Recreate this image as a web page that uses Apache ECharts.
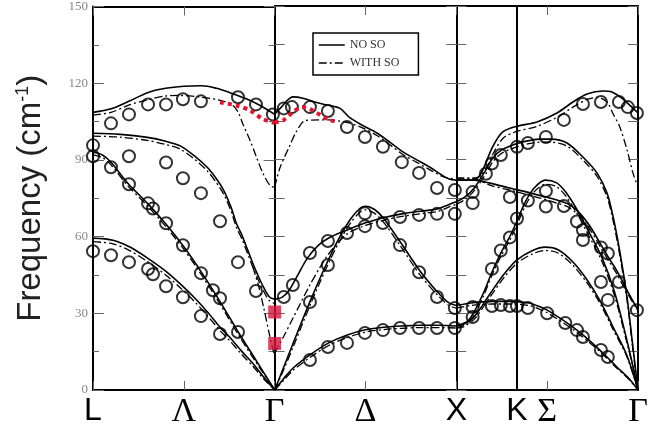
<!DOCTYPE html>
<html>
<head>
<meta charset="UTF-8">
<title>Phonon dispersion</title>
<script src="https://cdn.jsdelivr.net/npm/echarts@6/dist/echarts.min.js"></script>
<style>
  html,body{margin:0;padding:0;background:#fff;}
  #chart{width:668px;height:431px;}
</style>
</head>
<body>
<div id="chart"></div>
<script>
// path coordinate: L=0, Γ=1, X=2, K=2.334, Γ=3 (each panel one unit wide)
const tickPos = [0, 0.5, 1, 1.5, 2, 2.5, 3];
const tickNames = ['L', 'Λ', 'Γ', 'Δ', 'X', 'Σ', 'Γ'];
const kPos = 2.334;
const kName = 'K';

// calculated branches, NO SO (solid)
const noSoLG = [
  [[0,108.6],[0.1,110],[0.2,113],[0.3,116.3],[0.4,118],[0.5,118.8],[0.6,119],[0.68,118],[0.75,116.4],[0.84,114],[0.92,111.3],[1,107.8]],
  [[0,100.4],[0.15,100],[0.3,98.8],[0.4,97.3],[0.48,95.5],[0.56,91.5],[0.63,87],[0.68,82.5],[0.72,78],[0.76,71.5],[0.79,65],[0.82,60.5],[0.85,55],[0.88,49.5],[0.91,44.5],[0.94,40],[0.97,36.5],[1,35.5]],
  [[0,93],[0.05,92],[0.1,89],[0.19,81],[0.3,73],[0.4,65],[0.5,56],[0.6,45.7],[0.7,34.5],[0.8,22.6],[0.9,11.3],[1,0]],
  [[0,59.4],[0.11,58.6],[0.2,56],[0.3,51.6],[0.4,46.5],[0.48,41.5],[0.56,36],[0.63,30.5],[0.7,24.5],[0.75,20.8],[0.82,15],[0.88,10.4],[0.94,5],[1,0]]
];
const noSoGX = [
  [[1,107.8],[1.03,110],[1.1,114.5],[1.156,114],[1.22,112.5],[1.29,111.3],[1.36,110],[1.41,106.6],[1.48,103.5],[1.563,100.4],[1.63,97],[1.706,93],[1.78,90],[1.855,87],[1.92,84],[1.965,82.3],[2,82]],
  [[1,35.5],[1.04,36.2],[1.08,39],[1.12,44],[1.18,51.5],[1.24,56.5],[1.3,59.5],[1.4,62.5],[1.5,65.3],[1.6,67.3],[1.7,68.8],[1.8,69.8],[1.9,70.8],[1.96,72.5],[2,73.5]],
  [[1,0],[1.05,9],[1.1,18],[1.2,35.5],[1.29,50],[1.36,60],[1.42,67],[1.47,71],[1.5,71.8],[1.55,70.5],[1.6,67],[1.69,58],[1.8,46.5],[1.9,38],[1.96,34],[2,33]],
  [[1,0],[1.05,4.5],[1.1,8.5],[1.2,14],[1.3,18.5],[1.4,21.5],[1.5,23.5],[1.6,24.5],[1.7,25],[1.8,25.3],[1.9,25.3],[2,25]]
];
const noSoXG = [
  [[2,82],[2.08,82],[2.12,83],[2.146,86],[2.2,95],[2.256,100.8],[2.334,103],[2.444,104.7],[2.554,108.2],[2.642,112.5],[2.719,115.6],[2.807,116.8],[2.856,116.4],[2.911,114],[2.966,110.5],[3,108.2]],
  [[2,82],[2.1,82],[2.185,80.8],[2.3,78.8],[2.389,77.3],[2.47,75.8],[2.554,74.2],[2.62,72.5],[2.68,69],[2.74,63.5],[2.79,57.5],[2.84,51.5],[2.884,46.5],[2.939,39],[3,31.2]],
  [[2,73.5],[2.05,75.5],[2.1,79],[2.163,86],[2.2,90.5],[2.25,93.8],[2.334,96.3],[2.4,97.4],[2.46,98],[2.52,98],[2.609,96.5],[2.697,91],[2.774,84.8],[2.829,77],[2.862,68],[2.9,54],[2.94,36],[2.97,18],[3,0]],
  [[2,25],[2.05,26],[2.09,29.5],[2.15,38],[2.196,46],[2.245,53.5],[2.295,60],[2.334,66],[2.38,73.5],[2.43,79],[2.49,82],[2.55,81],[2.6,77.5],[2.664,70.5],[2.72,63],[2.8,52],[2.87,38.5],[2.93,22],[2.97,10],[3,0]],
  [[2,25],[2.09,28],[2.185,37.5],[2.26,45],[2.334,50.8],[2.42,54.5],[2.49,55.8],[2.56,54.8],[2.642,50],[2.72,43],[2.79,35],[2.86,25],[2.939,13.5],[3,0]],
  [[2,33],[2.08,34],[2.2,34.6],[2.3,34.6],[2.4,34],[2.46,32.5],[2.5,31.2],[2.587,27.3],[2.664,23.4],[2.73,19.5],[2.79,15.6],[2.884,9],[2.95,4.5],[3,0]]
];

// calculated branches, WITH SO (dash-dot)
const withSoLG = [
  [[0,107.5],[0.1,108.6],[0.2,111.5],[0.3,113.5],[0.4,115],[0.48,115.2],[0.6,114.5],[0.7,113.3],[0.77,111.3],[0.8,108.5],[0.825,104],[0.864,97.7],[0.9,91],[0.935,84.8],[0.974,80],[1,79.3]],
  [[0,99.3],[0.15,98.9],[0.3,97.6],[0.4,96],[0.48,94.2],[0.56,90.2],[0.63,85.6],[0.68,81],[0.72,76.5],[0.76,70],[0.79,63.5],[0.82,59],[0.85,53.5],[0.88,48],[0.91,43],[0.94,38.5],[0.97,35],[1,33.8]],
  [[0.88,48],[0.91,41],[0.94,32],[0.97,22],[1,13]],
  [[0,92],[0.05,91],[0.1,88],[0.19,80],[0.3,72],[0.4,64],[0.5,55],[0.6,44.7],[0.7,33.5],[0.8,21.6],[0.9,10.5],[1,0]],
  [[0,58],[0.11,57.2],[0.2,54.6],[0.3,50.2],[0.4,45],[0.48,40],[0.56,34.5],[0.63,29],[0.7,23.2],[0.75,19.5],[0.82,13.8],[0.88,9.3],[0.94,4.3],[1,0]]
];
const withSoGX = [
  [[1,79.3],[1.03,87],[1.08,95],[1.12,101],[1.17,105.3],[1.3,105.5],[1.36,105],[1.41,104.3],[1.48,102.5],[1.563,99.4],[1.63,96],[1.706,92],[1.78,89],[1.855,86],[1.92,83.5],[1.965,82.6],[2,82.8]],
  [[1,14.5],[1.05,21],[1.1,28],[1.19,40.5],[1.25,48],[1.29,52.5],[1.33,56],[1.4,61],[1.5,64.3],[1.6,66.3],[1.7,67.8],[1.8,68.8],[1.9,69.8],[1.96,71.5],[2,72.5]],
  [[1,0],[1.05,8],[1.1,16.5],[1.2,34],[1.29,48.5],[1.36,58.5],[1.42,65.5],[1.47,69.5],[1.5,70.4],[1.55,69],[1.6,65.5],[1.69,56.5],[1.8,45],[1.9,36.8],[1.96,33],[2,32]],
  [[1,0],[1.05,3.8],[1.1,7.6],[1.2,13],[1.3,17.5],[1.4,20.5],[1.5,22.6],[1.6,23.6],[1.7,24.1],[1.8,24.4],[1.9,24.4],[2,24.2]]
];
const withSoXG = [
  [[2,82.8],[2.08,82.8],[2.12,83.2],[2.16,86],[2.2,92],[2.26,98.5],[2.334,101],[2.444,103],[2.554,106.5],[2.642,110.5],[2.719,113.5],[2.78,114.3],[2.83,112.5],[2.862,108],[2.9,102.7],[2.94,93.7],[2.972,84.8],[3,79.3]],
  [[2,82.8],[2.1,82.5],[2.185,80],[2.3,78],[2.389,76.3],[2.47,74.8],[2.554,73],[2.62,71.3],[2.68,67.8],[2.74,62.3],[2.79,56.3],[2.84,50.3],[2.884,45.3],[2.939,38],[3,31]],
  [[2,72.5],[2.05,74.5],[2.1,78],[2.163,84.5],[2.2,89],[2.25,92.5],[2.334,95],[2.4,96.2],[2.46,96.8],[2.52,96.8],[2.609,95.3],[2.697,89.8],[2.774,83.5],[2.829,75.5],[2.862,66.5],[2.9,52.5],[2.94,35],[2.97,17],[3,0]],
  [[2,24.2],[2.05,25],[2.09,28.3],[2.15,36.8],[2.196,44.8],[2.245,52.2],[2.295,58.6],[2.334,64.5],[2.38,72],[2.43,77.5],[2.49,80.3],[2.55,79.5],[2.6,76],[2.664,69],[2.72,61.5],[2.8,50.5],[2.87,37],[2.93,21],[2.97,9.5],[3,0]],
  [[2,24.2],[2.09,27],[2.185,36.3],[2.26,43.7],[2.334,49.5],[2.42,53.2],[2.49,54.5],[2.56,53.5],[2.642,48.7],[2.72,41.8],[2.79,34],[2.86,24],[2.939,13],[3,0]],
  [[2,32],[2.08,33],[2.2,33.6],[2.3,33.6],[2.4,33],[2.46,31.5],[2.5,30.2],[2.587,26.3],[2.664,22.5],[2.73,18.7],[2.79,15],[2.884,8.5],[2.95,4.2],[3,0]]
];

// measured points (open circles)
const expLG = [[0,95.7],[0,91.4],[0.099,104.3],[0.198,107.8],[0.303,111.7],[0.402,111.7],[0.495,113.7],[0.594,112.9],[0.798,114.5],[0.897,111.7],[0.99,107.8],
  [0.099,87.1],[0.198,91.4],[0.402,89],[0.495,82.8],[0.594,77],[0.699,66],
  [0.198,80.5],[0.303,73],[0.33,71],[0.402,65.2],[0.495,56.6],[0.594,45.7],[0.66,39],[0.699,35.9],[0.798,22.7],
  [0,54.3],[0.099,52.7],[0.198,50],[0.303,47.3],[0.33,45.3],[0.402,40.6],[0.495,36.3],[0.594,28.9],[0.699,21.9],
  [0.798,50],[0.897,38.7]];
const expGX = [[1.05,36.3],[1.1,41],[1.194,53.5],[1.293,58.2],[1.398,61.3],[1.497,64],[1.596,65.2],[1.69,67.6],[1.795,68.4],[1.894,68.8],[1.992,68.8],[1.497,69],
  [1.194,34.4],[1.293,48.8],[1.69,56.6],[1.795,46],[1.894,36.3],[1.992,32],
  [1.194,11.7],[1.293,16.8],[1.398,18.4],[1.497,22.3],[1.596,23.4],[1.69,24.2],[1.795,24.2],[1.894,24.2],[1.992,24.2],
  [1.05,110],[1.095,110.5],[1.194,110.5],[1.293,109],[1.398,102.7],[1.497,98.8],[1.596,95],[1.7,89],[1.795,84.8],[1.894,78.9],[1.992,78.1]];
const expXG = [[2.09,77.3],[2.09,73],[2.09,32.4],[2.09,28.5],
  [2.163,84.5],[2.196,88.5],[2.245,91.8],[2.334,95],[2.394,96.5],[2.493,98.8],[2.592,105.5],[2.697,111.7],[2.796,112.5],[2.895,112.5],[2.944,110.5],[2.994,108.2],
  [2.295,75.4],[2.394,74],[2.493,77.7],[2.493,71.7],[2.592,71.9],[2.664,65.8],[2.697,62.5],[2.697,58.6],[2.796,55.7],[2.834,53.3],
  [2.334,67],[2.295,59.6],[2.245,54.5],[2.196,47.3],
  [2.196,32.8],[2.245,33.2],[2.295,32.8],[2.334,32.8],[2.394,32],[2.5,30],[2.6,26.2],[2.664,23.4],[2.697,20.7],[2.796,15.6],[2.834,12.9],
  [2.796,42.2],[2.834,35.2],[2.895,42.2],[2.994,31.2]];

// red data near Γ
const redLG = [[0.699,112.5],[0.79,111.3],[0.864,109.4],[0.935,106],[1,104.5]];
const redGX = [[1,104.5],[1.05,105.5],[1.1,108.5],[1.15,110.5],[1.2,109.5],[1.25,107.5],[1.3,105.5],[1.33,105]];
const redSquares = [[1,30.5],[1,18.2]];

const chart = echarts.init(document.getElementById('chart'));

const edges = [93, 274.7, 456.3, 638];
const W = 668, H = 431;
const grids = [], xAxes = [], yAxes = [];
const black = '#000', tickCol = '#666';

function xLabel(v) {
  const i = tickPos.indexOf(Math.round(v * 1000) / 1000);
  if (i < 0) return '';
  const t = tickNames[i];
  return /[A-Z]/.test(t) ? '{s|' + t + '}' : '{g|' + t + '}';
}
const bigRich = {
  s: {fontFamily: 'Liberation Sans', fontSize: 32, color: '#000'},
  g: {fontFamily: 'Liberation Serif', fontSize: 34, color: '#000'}
};

for (let p = 0; p < 3; p++) {
  grids.push({left: edges[p], right: W - edges[p + 1], top: 6, bottom: H - 390});
  const common = {
    type: 'value', gridIndex: p, min: p, max: p + 1, interval: 0.5,
    axisLine: {show: true, onZero: false, lineStyle: {color: black, width: 2}},
    axisTick: {inside: true, length: 9, lineStyle: {color: tickCol, width: 1}},
    splitLine: {show: false}
  };
  xAxes.push(Object.assign({}, common, {
    position: 'bottom',
    axisLabel: {
      show: true, margin: 5, showMinLabel: p === 0, formatter: xLabel, rich: bigRich
    }
  }));
  xAxes.push(Object.assign({}, common, {position: 'top', axisLabel: {show: false}}));

  const yc = {
    type: 'value', gridIndex: p, min: 0, max: 150, interval: 30,
    axisLine: {show: true, onZero: false, lineStyle: {color: black, width: 2}},
    axisTick: {inside: true, length: p === 0 ? 11 : 10, lineStyle: {color: tickCol, width: 1}},
    minorTick: {show: true, splitNumber: 2, length: p === 0 ? 6 : 10, lineStyle: {color: tickCol, width: 1}},
    splitLine: {show: false}
  };
  yAxes.push(Object.assign({}, yc, {
    position: 'left',
    axisLabel: {show: p === 0, margin: 5, color: '#888', fontFamily: 'Liberation Serif', fontSize: 13},
    name: p === 0 ? 'Frequency (cm{sup|-1})' : '',
    nameLocation: 'middle', nameGap: 46, nameRotate: 90,
    nameTextStyle: {
      fontFamily: 'Liberation Sans', fontSize: 33, color: '#222',
      rich: {sup: {fontFamily: 'Liberation Sans', fontSize: 18, color: '#222', verticalAlign: 'top'}}
    }
  }));
  yAxes.push(Object.assign({}, yc, {position: 'right', axisLabel: {show: false}}));
}

const series = [];
function addLines(branches, p, name, dashed) {
  branches.forEach(function (b) {
    series.push({
      type: 'line', name: name, xAxisIndex: 2 * p, yAxisIndex: 2 * p,
      data: b, symbol: 'none', smooth: 0.3, silent: true, z: dashed ? 2 : 3,
      itemStyle: {color: black},
      lineStyle: {color: black, width: dashed ? 1.3 : 1.6, type: dashed ? [8, 3, 2, 3] : 'solid'}
    });
  });
}
[noSoLG, noSoGX, noSoXG].forEach(function (bs, p) { addLines(bs, p, 'NO SO', false); });
[withSoLG, withSoGX, withSoXG].forEach(function (bs, p) { addLines(bs, p, 'WITH SO', true); });

[expLG, expGX, expXG].forEach(function (pts, p) {
  series.push({
    type: 'scatter', xAxisIndex: 2 * p, yAxisIndex: 2 * p, data: pts,
    symbol: 'circle', symbolSize: 12, silent: true, z: 4,
    itemStyle: {color: 'rgba(255,255,255,0)', borderColor: black, borderWidth: 2}
  });
});

[redLG, redGX].forEach(function (pts, p) {
  series.push({
    type: 'line', xAxisIndex: 2 * p, yAxisIndex: 2 * p, data: pts,
    symbol: 'none', smooth: 0.3, silent: true, z: 5,
    lineStyle: {color: '#e3122d', width: 4, type: [4, 4]}
  });
});
series.push({
  type: 'scatter', xAxisIndex: 0, yAxisIndex: 0, data: redSquares,
  symbol: 'rect', symbolSize: 13, silent: true, z: 6,
  itemStyle: {color: '#d8143a'}
});

// K line inside the last panel
series.push({
  type: 'line', xAxisIndex: 4, yAxisIndex: 4, data: [], silent: true,
  markLine: {
    silent: true, symbol: 'none', animation: false,
    lineStyle: {color: black, width: 2, type: 'solid'},
    label: {
      show: true, position: 'start', distance: 5, formatter: kName,
      fontFamily: 'Liberation Sans', fontSize: 32, color: '#000'
    },
    data: [[{coord: [kPos, 0]}, {coord: [kPos, 150]}]]
  }
});

chart.setOption({
  animation: false,
  backgroundColor: '#fff',
  grid: grids,
  xAxis: xAxes,
  yAxis: yAxes,
  legend: {
    data: ['NO SO', 'WITH SO'], orient: 'vertical', left: 313, top: 33,
    itemWidth: 26, itemHeight: 10, itemGap: 6, padding: [6, 19, 6, 5],
    borderColor: '#000', borderWidth: 1.5, selectedMode: false,
    itemStyle: {opacity: 0},
    lineStyle: {color: black, width: 1.5},
    textStyle: {fontFamily: 'Liberation Serif', fontSize: 12, color: '#333'}
  },
  series: series
});
</script>
</body>
</html>
